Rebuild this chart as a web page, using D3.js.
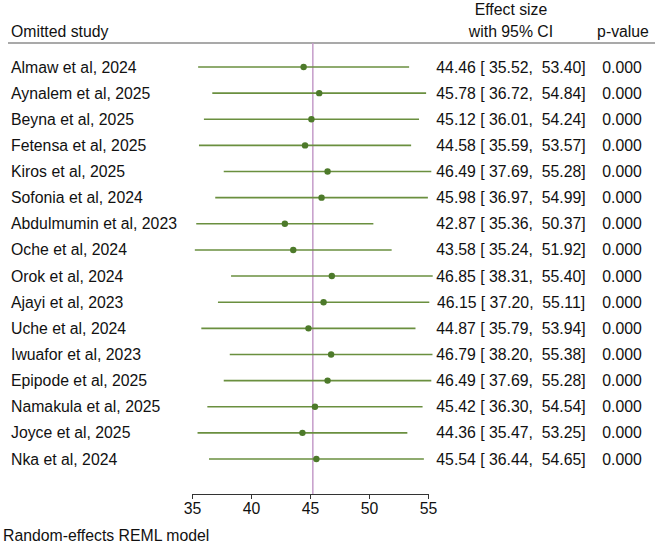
<!DOCTYPE html>
<html>
<head>
<meta charset="utf-8">
<script src="https://cdn.jsdelivr.net/npm/d3@7"></script>
<style>
  body { margin: 0; background: #fff; }
  text { font-family: Arial, "Liberation Sans", sans-serif; fill: #111; }
</style>
</head>
<body>
<div class="chart"></div>
<script>
// leave-one-out forest plot
var studies = ['Almaw et al, 2024', 'Aynalem et al, 2025', 'Beyna et al, 2025', 'Fetensa et al, 2025',
  'Kiros et al, 2025', 'Sofonia et al, 2024', 'Abdulmumin et al, 2023', 'Oche et al, 2024',
  'Orok et al, 2024', 'Ajayi et al, 2023', 'Uche et al, 2024', 'Iwuafor et al, 2023',
  'Epipode et al, 2025', 'Namakula et al, 2025', 'Joyce et al, 2025', 'Nka et al, 2024'];
var es = [44.46, 45.78, 45.12, 44.58, 46.49, 45.98, 42.87, 43.58, 46.85, 46.15, 44.87, 46.79, 46.49, 45.42, 44.36, 45.54];
var lo = [35.52, 36.72, 36.01, 35.59, 37.69, 36.97, 35.36, 35.24, 38.31, 37.20, 35.79, 38.20, 37.69, 36.30, 35.47, 36.44];
var hi = [53.40, 54.84, 54.24, 53.57, 55.28, 54.99, 50.37, 51.92, 55.40, 55.11, 53.94, 55.38, 55.28, 54.54, 53.25, 54.65];
var pvals = ['0.000', '0.000', '0.000', '0.000', '0.000', '0.000', '0.000', '0.000',
  '0.000', '0.000', '0.000', '0.000', '0.000', '0.000', '0.000', '0.000'];
var overall = 45.24;
var xTicks = [35, 40, 45, 50, 55];

var width = 660, height = 543;
var fs = 15.8;

var svg = d3.select('.chart')
  .append('svg')
    .attr('width', width)
    .attr('height', height);

var xScale = d3.scaleLinear()
  .domain([35, 55])
  .range([192, 428]);

var yScale = d3.scalePoint()
  .domain(d3.range(studies.length))
  .range([67, 459]);

var axisY = 494;

// header
svg.append('text').attr('x', 11).attr('y', 37).style('font-size', fs + 'px').text('Omitted study');
svg.append('text').attr('x', 511).attr('y', 15).attr('text-anchor', 'middle').style('font-size', fs + 'px').text('Effect size');
svg.append('text').attr('x', 511).attr('y', 37).attr('text-anchor', 'middle').style('font-size', fs + 'px').text('with 95% CI');
svg.append('text').attr('x', 623).attr('y', 37).attr('text-anchor', 'middle').style('font-size', fs + 'px').text('p-value');

svg.append('line')
  .attr('x1', 8).attr('x2', 655)
  .attr('y1', 43).attr('y2', 43)
  .style('stroke', '#555')
  .style('stroke-width', 1.2);

// overall effect reference line
svg.append('line')
  .attr('x1', xScale(overall)).attr('x2', xScale(overall))
  .attr('y1', 43).attr('y2', axisY)
  .style('stroke', '#c59cc9')
  .style('stroke-width', 1.5);

var rows = svg.selectAll('.row')
  .data(studies)
  .enter().append('g')
    .attr('class', 'row')
    .attr('transform', function(d, i) { return 'translate(0,' + yScale(i) + ')'; });

rows.append('text')
  .attr('x', 11).attr('y', 5.5)
  .style('font-size', fs + 'px')
  .text(function(d) { return d; });

rows.append('line')
  .attr('x1', function(d, i) { return xScale(lo[i]); })
  .attr('x2', function(d, i) { return xScale(hi[i]); })
  .style('stroke', '#6a8f3f')
  .style('stroke-width', 1.6);

rows.append('circle')
  .attr('cx', function(d, i) { return xScale(es[i]); })
  .attr('r', 3.2)
  .style('fill', '#4d7a2a');

rows.append('text')
  .attr('x', 511).attr('y', 5.5)
  .attr('text-anchor', 'middle')
  .attr('xml:space', 'preserve')
  .style('font-size', fs + 'px')
  .style('white-space', 'pre')
  .text(function(d, i) { return es[i].toFixed(2) + ' [ ' + lo[i].toFixed(2) + ',  ' + hi[i].toFixed(2) + ']'; });

rows.append('text')
  .attr('x', 622).attr('y', 5.5)
  .attr('text-anchor', 'middle')
  .style('font-size', fs + 'px')
  .text(function(d, i) { return pvals[i]; });

// x axis
var xAxis = d3.axisBottom(xScale)
  .tickValues(xTicks)
  .tickSizeInner(5)
  .tickSizeOuter(5)
  .tickPadding(4);

var gx = svg.append('g')
  .attr('transform', 'translate(0,' + axisY + ')')
  .call(xAxis);

gx.select('.domain').style('stroke', '#333');
gx.selectAll('.tick line').style('stroke', '#333');
gx.selectAll('.tick text')
  .style('font-size', fs + 'px')
  .style('font-family', 'Arial, "Liberation Sans", sans-serif')
  .style('fill', '#111');

svg.append('text')
  .attr('x', 3).attr('y', 541)
  .style('font-size', fs + 'px')
  .text('Random-effects REML model');
</script>
</body>
</html>
